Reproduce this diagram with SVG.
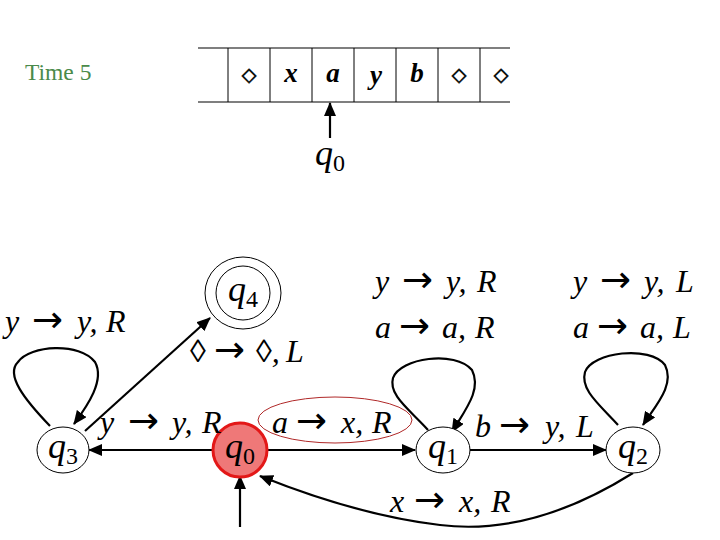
<svg xmlns="http://www.w3.org/2000/svg" width="720" height="540" viewBox="0 0 720 540">
<defs>
<marker id="ah" markerUnits="userSpaceOnUse" markerWidth="14" markerHeight="12" refX="13" refY="6" orient="auto">
<path d="M0,0 L14,6 L0,12 Z" fill="#000"/>
</marker>
<style>
.lab{font-family:"Liberation Serif","DejaVu Serif",serif;font-size:32px;font-style:italic;fill:#000}
.ar{font-family:"DejaVu Sans",sans-serif;font-style:normal;font-size:37px}
.ql{font-family:"Liberation Serif","DejaVu Serif",serif;font-size:36px;fill:#000;text-anchor:middle}
.ql .q{font-style:italic}
.sub{font-size:24px}
.tape{font-family:"Liberation Serif","DejaVu Serif",serif;font-size:27px;font-style:italic;font-weight:bold;fill:#000;text-anchor:middle}
.dia{font-family:"DejaVu Sans",sans-serif;font-size:19px;font-weight:bold;fill:#000;stroke:#000;stroke-width:0.6;text-anchor:middle}
.node{fill:#fff;stroke:#000;stroke-width:1}
.edge{fill:none;stroke:#000;stroke-width:2.2}
.time{font-family:"Liberation Serif","Times New Roman",serif;font-size:23.5px;fill:#4a8a4a}
</style>
</defs>
<rect width="720" height="540" fill="#fff"/>
<text class="time" x="25" y="80">Time 5</text>
<g id="tape">
<line x1="198" y1="48" x2="510" y2="48" stroke="#000" stroke-width="1.2"/>
<line x1="198" y1="102" x2="510" y2="102" stroke="#000" stroke-width="1.2"/>
<g stroke="#000" stroke-width="1">
<line x1="228" y1="48" x2="228" y2="102"/><line x1="270" y1="48" x2="270" y2="102"/><line x1="312" y1="48" x2="312" y2="102"/><line x1="354" y1="48" x2="354" y2="102"/><line x1="396" y1="48" x2="396" y2="102"/><line x1="438" y1="48" x2="438" y2="102"/><line x1="480" y1="48" x2="480" y2="102"/>
</g>
<text class="dia" x="249" y="81">◇︎</text>
<text class="tape" x="291" y="82">x</text>
<text class="tape" x="333" y="82">a</text>
<text class="tape" x="376" y="84">y</text>
<text class="tape" x="417" y="82">b</text>
<text class="dia" x="459" y="81">◇︎</text>
<text class="dia" x="501" y="81">◇︎</text>
<line x1="330" y1="138" x2="330" y2="103" stroke="#000" stroke-width="2.2" marker-end="url(#ah)"/>
<text class="ql" x="330" y="165"><tspan class="q">q</tspan><tspan class="sub" dy="6">0</tspan></text>
</g>
<g id="edges">
<line class="edge" x1="213" y1="450" x2="89" y2="450" marker-end="url(#ah)"/>
<line class="edge" x1="268" y1="450" x2="415" y2="450" marker-end="url(#ah)"/>
<line class="edge" x1="470" y1="450" x2="606" y2="450" marker-end="url(#ah)"/>
<line class="edge" x1="85" y1="431" x2="210" y2="318" marker-end="url(#ah)"/>
<line class="edge" x1="240" y1="527" x2="240" y2="476" marker-end="url(#ah)"/>
<path class="edge" d="M633,473 C590,500 520,535 440,525 C380,518 320,500 260,476" marker-end="url(#ah)"/>
<path class="edge" d="M50,426 C25,400 5,375 18,362 C30,345 80,342 95,362 C105,380 88,405 74,424" marker-end="url(#ah)"/>
<path class="edge" d="M428,430 C410,410 388,395 393,378 C400,358 455,350 472,370 C482,390 465,410 452,432" marker-end="url(#ah)"/>
<path class="edge" d="M618,425 C600,405 580,390 585,372 C592,352 650,345 665,365 C675,385 656,405 643,425" marker-end="url(#ah)"/>
</g>
<g id="q3"><ellipse class="node" cx="63" cy="450" rx="26" ry="23"/><text class="ql" x="63" y="458"><tspan class="q">q</tspan><tspan class="sub" dy="6">3</tspan></text></g>
<g id="q4"><ellipse class="node" cx="243" cy="293" rx="38" ry="36"/><ellipse class="node" cx="243" cy="293" rx="27" ry="27"/><text class="ql" x="243" y="301"><tspan class="q">q</tspan><tspan class="sub" dy="6">4</tspan></text></g>
<g id="q0"><circle cx="240" cy="450" r="27" fill="#ef7878" stroke="#e31818" stroke-width="3"/><text class="ql" x="240" y="458"><tspan class="q">q</tspan><tspan class="sub" dy="6">0</tspan></text></g>
<g id="q1"><ellipse class="node" cx="443" cy="450" rx="27" ry="23"/><text class="ql" x="443" y="458"><tspan class="q">q</tspan><tspan class="sub" dy="6">1</tspan></text></g>
<g id="q2"><ellipse class="node" cx="633" cy="450" rx="27" ry="23"/><text class="ql" x="633" y="458"><tspan class="q">q</tspan><tspan class="sub" dy="6">2</tspan></text></g>
<g id="labels">
<text class="lab" y="332"><tspan x="5">y</tspan><tspan class="ar" x="32">→</tspan><tspan x="77">y,</tspan><tspan x="106">R</tspan></text>
<text class="lab" y="362"><tspan x="190">◊</tspan><tspan class="ar" x="214">→</tspan><tspan x="256">◊,</tspan><tspan x="286">L</tspan></text>
<text class="lab" y="433"><tspan x="100">y</tspan><tspan class="ar" x="128">→</tspan><tspan x="172">y,</tspan><tspan x="202">R</tspan></text>
<text class="lab" y="433"><tspan x="272">a</tspan><tspan class="ar" x="296">→</tspan><tspan x="341">x,</tspan><tspan x="372">R</tspan></text>
<ellipse cx="335" cy="420" rx="77" ry="23" fill="none" stroke="#b02828" stroke-width="1"/>
<text class="lab" y="292"><tspan x="375">y</tspan><tspan class="ar" x="402">→</tspan><tspan x="446">y,</tspan><tspan x="477">R</tspan></text>
<text class="lab" y="338"><tspan x="375">a</tspan><tspan class="ar" x="399">→</tspan><tspan x="442">a,</tspan><tspan x="475">R</tspan></text>
<text class="lab" y="292"><tspan x="573">y</tspan><tspan class="ar" x="600">→</tspan><tspan x="644">y,</tspan><tspan x="676">L</tspan></text>
<text class="lab" y="338"><tspan x="573">a</tspan><tspan class="ar" x="597">→</tspan><tspan x="640">a,</tspan><tspan x="673">L</tspan></text>
<text class="lab" y="437"><tspan x="475">b</tspan><tspan class="ar" x="499">→</tspan><tspan x="545">y,</tspan><tspan x="576">L</tspan></text>
<text class="lab" y="512"><tspan x="390">x</tspan><tspan class="ar" x="414">→</tspan><tspan x="459">x,</tspan><tspan x="491">R</tspan></text>
</g>
</svg>
